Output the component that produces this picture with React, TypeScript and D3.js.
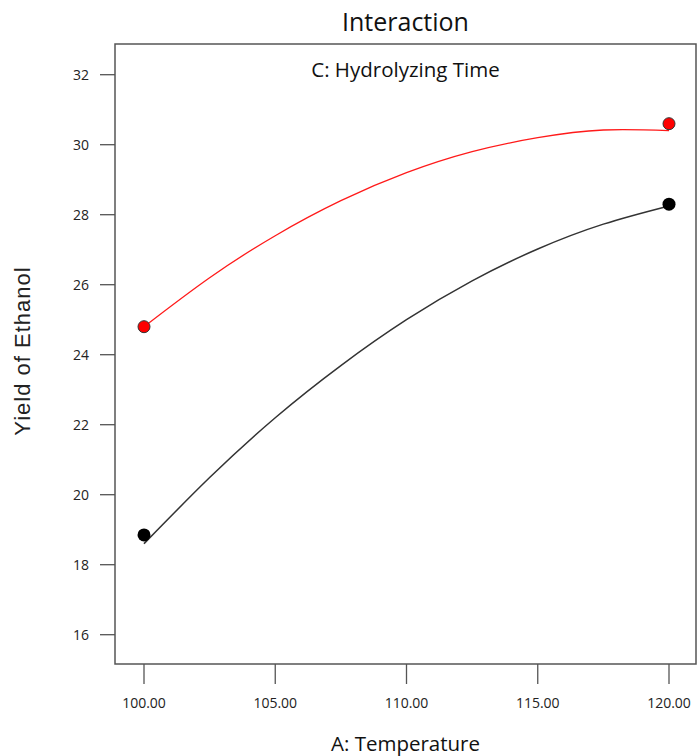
import React from "react";
import * as d3 from "d3";

const xTicks = [100, 105, 110, 115, 120];
const yTicks = [16, 18, 20, 22, 24, 26, 28, 30, 32];

// Model prediction curves
const curveX = [100, 102.5, 105, 107.5, 110, 112.5, 115, 117.5, 120];
const redCurve = [24.8, 26.2, 27.4, 28.4, 29.2, 29.8, 30.2, 30.42, 30.4];
const blackCurve = [18.6, 20.49, 22.2, 23.69, 25.0, 26.11, 27.02, 27.73, 28.25];

// Observed design points
const pointX = [100, 120];
const redPoints = [24.8, 30.6];
const blackPoints = [18.85, 28.3];

const W = 697;
const H = 756;
const left = 115;
const right = 696;
const top = 44;
const bottom = 664;

export default function App() {
  const x = d3.scaleLinear().domain([100, 120]).range([144, 669]);
  const y = d3.scaleLinear().domain([16, 32]).range([634.7, 74.7]);
  const line = d3
    .line<number>()
    .x((_, i) => x(curveX[i]))
    .y((d) => y(d))
    .curve(d3.curveNatural);

  const font = "'Open Sans', 'Noto Sans', sans-serif";
  const cx = (left + right) / 2;

  return (
    <svg
      width={W}
      height={H}
      style={{ position: "absolute", left: 0, top: 0, background: "#fff" }}
    >
      <rect x={0} y={0} width={W} height={H} fill="#fff" />
      <text x={cx} y={31} textAnchor="middle" fontFamily={font} fontSize={25} fill="#111">
        Interaction
      </text>
      <rect
        x={left}
        y={top}
        width={right - left}
        height={bottom - top}
        fill="none"
        stroke="#555"
        strokeWidth={1.5}
      />
      <text x={cx} y={77} textAnchor="middle" fontFamily={font} fontSize={20.5} fill="#111">
        C: Hydrolyzing Time
      </text>

      {yTicks.map((t) => (
        <g key={"y" + t}>
          <line x1={100} x2={left} y1={y(t)} y2={y(t)} stroke="#555" strokeWidth={1.3} />
          <text
            x={89}
            y={y(t) + 5}
            textAnchor="end"
            fontFamily={font}
            fontSize={14}
            fill="#222"
          >
            {t}
          </text>
        </g>
      ))}

      {xTicks.map((t) => (
        <g key={"x" + t}>
          <line x1={x(t)} x2={x(t)} y1={bottom} y2={684} stroke="#555" strokeWidth={1.3} />
          <text
            x={x(t)}
            y={708}
            textAnchor="middle"
            fontFamily={font}
            fontSize={14}
            fill="#222"
          >
            {t.toFixed(2)}
          </text>
        </g>
      ))}

      <text x={cx} y={751} textAnchor="middle" fontFamily={font} fontSize={20.5} fill="#111">
        A: Temperature
      </text>
      <text
        transform={`translate(30, 351) rotate(-90)`}
        textAnchor="middle"
        fontFamily="'Liberation Sans', Arial, sans-serif"
        fontSize={22}
        letterSpacing={1}
        fill="#222"
      >
        Yield of Ethanol
      </text>

      <path d={line(redCurve) || ""} fill="none" stroke="#ff1a1a" strokeWidth={1.3} />
      <path d={line(blackCurve) || ""} fill="none" stroke="#333" strokeWidth={1.5} />

      {pointX.map((px, i) => (
        <circle
          key={"r" + i}
          cx={x(px)}
          cy={y(redPoints[i])}
          r={6}
          fill="#ff0000"
          stroke="#333"
          strokeWidth={1}
        />
      ))}
      {pointX.map((px, i) => (
        <circle key={"b" + i} cx={x(px)} cy={y(blackPoints[i])} r={6.5} fill="#000" />
      ))}
    </svg>
  );
}
